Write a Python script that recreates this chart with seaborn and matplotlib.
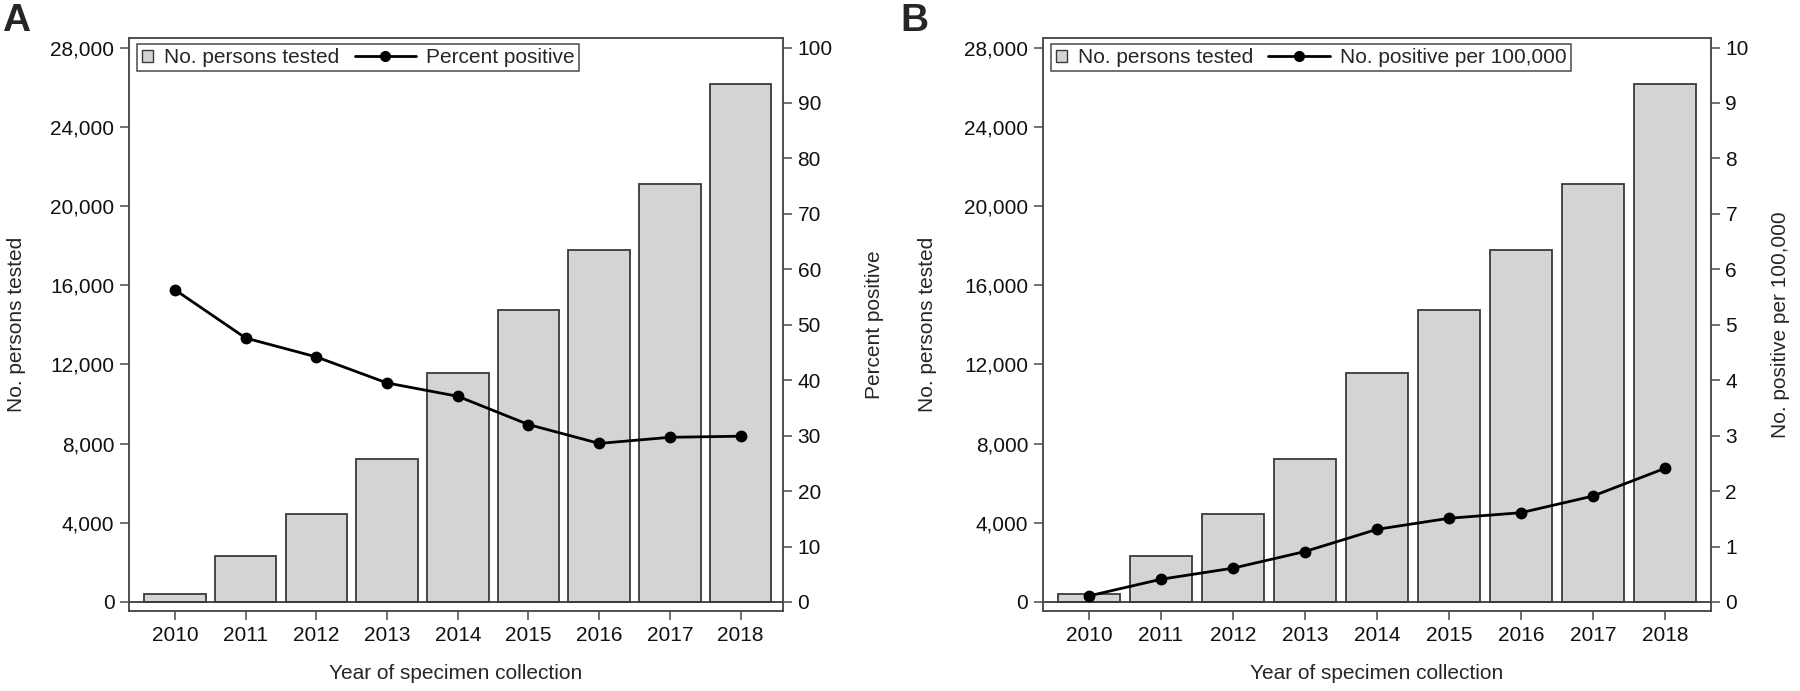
import matplotlib
matplotlib.use("Agg")
import matplotlib.pyplot as plt
import seaborn as sns
from matplotlib.lines import Line2D
from matplotlib.patches import Rectangle
from matplotlib.ticker import FuncFormatter

years = ["2010", "2011", "2012", "2013", "2014", "2015", "2016", "2017", "2018"]
persons_tested = [390, 2330, 4430, 7210, 11580, 14760, 17790, 21100, 26160]
percent_positive = [56.3, 47.6, 44.2, 39.5, 37.1, 32.0, 28.6, 29.7, 29.9]
positive_per_100k = [0.11, 0.41, 0.61, 0.91, 1.31, 1.51, 1.61, 1.91, 2.41]

left_ticks = list(range(0, 28001, 4000))
pct_ticks = list(range(0, 101, 10))
rate_ticks = list(range(0, 11))

BAR_FILL = "#d4d4d4"
BAR_EDGE = "#3a3a3a"
SPINE = "#4a4a4a"
FS = 15


class SquareHandler:
    def legend_artist(self, legend, orig_handle, fontsize, handlebox):
        x0, y0 = handlebox.xdescent, handlebox.ydescent
        w, h = handlebox.width, handlebox.height
        s = 0.56 * fontsize
        p = Rectangle((x0 + (w - s) / 2, y0 + (h - s) / 2), s, s,
                      facecolor=BAR_FILL, edgecolor=BAR_EDGE, linewidth=1.0,
                      transform=handlebox.get_transform())
        handlebox.add_artist(p)
        return p


class LineMarkerHandler:
    def legend_artist(self, legend, orig_handle, fontsize, handlebox):
        x0, y0 = handlebox.xdescent, handlebox.ydescent
        w, h = handlebox.width, handlebox.height
        length = 2.95 * fontsize
        xr = x0 + w
        xl = xr - length
        ym = y0 + h / 2
        ln = Line2D([xl, xr], [ym, ym], color="black", linewidth=2.0,
                    transform=handlebox.get_transform())
        mk = Line2D([(xl + xr) / 2], [ym], marker="o", markersize=7,
                    color="black", linestyle="none",
                    transform=handlebox.get_transform())
        handlebox.add_artist(ln)
        handlebox.add_artist(mk)
        return ln


def draw_panel(ax, line_vals, right_ticks, right_top, right_label, xlim, label_x):
    sns.barplot(x=years, y=persons_tested, color=BAR_FILL, saturation=1,
                edgecolor=BAR_EDGE, linewidth=1.3, width=0.87, ax=ax)
    ax2 = ax.twinx()
    sns.pointplot(x=years, y=line_vals, color="black", markers="o",
                  markersize=7, linewidth=2.0, ax=ax2)
    ax.axhline(0, color=BAR_EDGE, linewidth=1.3, zorder=3)

    bottom = -454
    top = 28505
    ax.set_ylim(bottom, top)
    ax2.set_ylim(bottom / 28000 * right_top, top / 28000 * right_top)
    ax.set_yticks(left_ticks)
    ax.yaxis.set_major_formatter(FuncFormatter(lambda v, p: f"{int(v):,}"))
    ax2.set_yticks(right_ticks)
    ax.set_xlim(*xlim)

    ax.set_xlabel("Year of specimen collection", fontsize=FS)
    ax.set_ylabel("No. persons tested", fontsize=FS)
    ax2.set_ylabel(right_label, fontsize=FS)
    ax.xaxis.set_label_coords(0.5, -0.093)
    ax.yaxis.set_label_coords(label_x[0], 0.5)
    ax2.yaxis.set_label_coords(label_x[1], 0.5)

    for a in (ax, ax2):
        a.tick_params(labelsize=FS, length=6.5, width=1.1, color=SPINE,
                      pad=4, labelcolor="#111111")
        for sp in a.spines.values():
            sp.set_visible(True)
            sp.set_color(SPINE)
            sp.set_linewidth(1.1)
    ax2.set_xlabel("")

    sq = Rectangle((0, 0), 1, 1)
    lm = Line2D([], [])
    w_px = ax.get_position().width * 1800
    h_px = ax.get_position().height * 691
    ax2.legend([sq, lm], ["No. persons tested", right_label], ncol=2,
               handler_map={sq: SquareHandler(), lm: LineMarkerHandler()},
               loc="upper left", bbox_to_anchor=(8 / w_px, 1 - 6.5 / h_px),
               borderaxespad=0, fontsize=FS, frameon=True, fancybox=False,
               edgecolor=SPINE, framealpha=1, handlelength=0.6,
               handletextpad=0.48, columnspacing=3.1, borderpad=0.2)
    ax2.get_legend().get_frame().set_linewidth(1.1)


sns.set_style("ticks")
plt.rcParams["font.family"] = ["Liberation Sans", "DejaVu Sans"]

fig = plt.figure(figsize=(18, 6.91), dpi=100)
ax_a = fig.add_axes([0.0717, 0.1158, 0.3633, 0.8299])
ax_b = fig.add_axes([0.5794, 0.1158, 0.3711, 0.8299])

draw_panel(ax_a, percent_positive, pct_ticks, 100, "Percent positive",
           (-0.65, 8.6), (-0.158, 1.126))
draw_panel(ax_b, positive_per_100k, rate_ticks, 10, "No. positive per 100,000",
           (-0.64, 8.64), (-0.158, 1.09))

fig.text(0.001, 0.995, "A", fontsize=28, fontweight="bold", va="top", ha="left")
fig.text(0.5, 0.995, "B", fontsize=28, fontweight="bold", va="top", ha="left")

fig.savefig("out.png", dpi=100)
